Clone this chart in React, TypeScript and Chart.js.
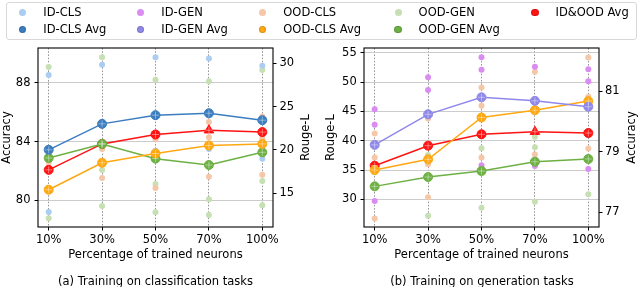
import React, { useEffect, useRef } from 'react';
import { Chart, registerables } from 'chart.js';

Chart.register(...registerables);

const FONT = 'DejaVu Sans';
const FS = 11.5;

const X_LABELS = ['10%', '30%', '50%', '70%', '100%'];

// ---------- (a) Training on classification tasks ----------
const A_ACC_TICKS = [80, 84, 88];
const A_ROUGE_TICKS = [15, 20, 25, 30];
const A_ID_CLS = [[88.52, 79.21], [89.22], [89.72, 83.37], [89.63, 83.5], [89.15, 82.83]];
const A_OOD_CLS = [[82.6], [83.5, 81.52], [84.16, 80.84], [85.32, 84.3, 81.61], [85.7, 84.23, 81.74]];
const A_OOD_GEN = [[29.57, 15.6, 12.12], [30.69, 17.7, 13.54], [28.11, 16.08, 12.81], [27.92, 14.31, 12.5], [29.23, 16.42, 13.62]];
const A_ID_CLS_AVG = [83.44, 85.2, 85.79, 85.92, 85.45];
const A_OOD_CLS_AVG = [80.73, 82.56, 83.19, 83.73, 83.84];
const A_OOD_GEN_AVG = [19.08, 20.69, 19.0, 18.27, 19.73];
const A_ALL_AVG = [82.08, 83.84, 84.48, 84.77, 84.64];

// ---------- (b) Training on generation tasks ----------
const B_ROUGE_TICKS = [30, 35, 40, 45, 50, 55];
const B_ACC_TICKS = [77, 79, 81];
const B_ID_GEN = [[45.36, 42.73, 29.74], [50.81, 48.65], [54.22, 52.1, 35.82], [52.6, 35.7], [52.17, 50.13, 35.18]];
const B_OOD_CLS = [[79.6, 78.81, 76.8], [80.1, 78.59, 77.5], [81.12, 80.52, 78.81], [81.64, 80.63, 78.91], [82.11, 80.81, 79.11]];
const B_OOD_GEN = [[34.6], [37.57, 27.23], [38.71, 28.6], [40.7, 38.89, 29.62], [30.88]];
const B_ID_GEN_AVG = [39.3, 44.5, 47.4, 46.8, 45.8];
const B_OOD_CLS_AVG = [78.4, 78.75, 80.13, 80.37, 80.67];
const B_OOD_GEN_AVG = [32.23, 33.82, 34.85, 36.43, 36.9];
const B_ALL_AVG = [35.75, 39.16, 41.1, 41.54, 41.32];

const C = {
  ID_CLS: '#abcdf2',
  ID_GEN: '#d98df2',
  OOD_CLS: '#f5c7a9',
  OOD_GEN: '#c6e0b4',
  ID_CLS_AVG: '#3b7dbf',
  ID_GEN_AVG: '#8f88ea',
  OOD_CLS_AVG: '#ffa812',
  OOD_GEN_AVG: '#6db043',
  ALL_AVG: '#ff1212',
};

Chart.defaults.font.family = FONT;
Chart.defaults.font.size = FS;
Chart.defaults.color = '#000';

function scatterDs(label: string, groups: number[][], color: string, axis: string) {
  return {
    type: 'scatter',
    label,
    data: groups.flatMap((g, i) => g.map((v) => ({ x: i, y: v }))),
    yAxisID: axis,
    backgroundColor: color,
    borderColor: color,
    borderWidth: 0,
    pointRadius: 3,
    pointHoverRadius: 3,
    order: 10,
  };
}

function avgDs(label: string, values: number[], color: string, axis: string, markMax = false) {
  const maxIdx = markMax ? values.indexOf(Math.max(...values)) : -1;
  const data = values.map((v, i) => ({ x: i, y: v }));
  return [
    {
      type: 'line',
      label,
      data,
      yAxisID: axis,
      borderColor: color,
      backgroundColor: color,
      borderWidth: 1.5,
      tension: 0,
      pointStyle: values.map((_, i) => (i === maxIdx ? 'triangle' : 'circle')),
      pointRadius: values.map((_, i) => (i === maxIdx ? 5.5 : 4.5)),
      pointBackgroundColor: color,
      pointBorderColor: color,
      pointBorderWidth: 1,
      order: 2,
    },
    {
      type: 'scatter',
      label: label + ' mark',
      data,
      yAxisID: axis,
      pointStyle: 'cross',
      pointRadius: 3.5,
      borderColor: 'rgba(255,255,255,0.4)',
      backgroundColor: 'rgba(0,0,0,0)',
      borderWidth: 1,
      order: 1,
    },
  ];
}

const framePlugin = {
  id: 'frame',
  afterDraw(chart: any, _args: any, opts: any) {
    const { ctx, chartArea } = chart;
    ctx.save();
    ctx.strokeStyle = '#000';
    ctx.lineWidth = 1.1;
    ctx.strokeRect(chartArea.left, chartArea.top, chartArea.right - chartArea.left, chartArea.bottom - chartArea.top);
    if (opts && opts.text) {
      ctx.translate(opts.x, (chartArea.top + chartArea.bottom) / 2);
      ctx.rotate(-Math.PI / 2);
      ctx.fillStyle = '#000';
      ctx.font = `${FS}px "${FONT}"`;
      ctx.textAlign = 'center';
      ctx.textBaseline = 'middle';
      ctx.fillText(opts.text, 0, 0);
    }
    ctx.restore();
  },
};

type Spec = {
  leftW: number;
  rightW: number;
  yMin: number;
  yMax: number;
  yTicks: number[];
  y2Min: number;
  y2Max: number;
  y2Ticks: number[];
  leftTitle: string;
  leftTitlePad: number;
  rightTitle: string;
  rightTitleX: number;
  leftTickPad: number;
  rightTickPad: number;
  datasets: any[];
};

function makeConfig(s: Spec): any {
  const tickFont = { family: FONT, size: FS };
  return {
    type: 'scatter',
    data: { datasets: s.datasets },
    options: {
      animation: false,
      responsive: false,
      events: [],
      layout: { padding: { left: 0, right: 0, top: 48, bottom: 20 } },
      plugins: {
        legend: { display: false },
        tooltip: { enabled: false },
        frame: { text: s.rightTitle, x: s.rightTitleX },
      },
      scales: {
        x: {
          type: 'linear',
          min: -0.2,
          max: 4.2,
          afterBuildTicks: (sc: any) => {
            sc.ticks = X_LABELS.map((_, i) => ({ value: i }));
          },
          afterFit: (sc: any) => {
            sc.height = 40;
          },
          ticks: {
            autoSkip: false,
            maxRotation: 0,
            padding: 3,
            font: tickFont,
            color: '#000',
            callback: (v: any) => X_LABELS[Math.round(v)] ?? '',
          },
          grid: {
            color: 'rgba(115,115,115,0.75)',
            lineWidth: 1,
            tickColor: '#000',
            tickLength: 3.5,
            tickWidth: 1,
          },
          border: { display: false, dash: [1.6, 1.6] },
          title: {
            display: true,
            text: 'Percentage of trained neurons',
            font: tickFont,
            color: '#000',
            padding: { top: 0, bottom: 5.4 },
          },
        },
        y: {
          type: 'linear',
          position: 'left',
          min: s.yMin,
          max: s.yMax,
          afterBuildTicks: (sc: any) => {
            sc.ticks = s.yTicks.map((v) => ({ value: v }));
          },
          afterFit: (sc: any) => {
            sc.width = s.leftW;
          },
          ticks: { padding: s.leftTickPad, font: tickFont, color: '#000', callback: (v: any) => String(v) },
          grid: { color: '#cccccc', lineWidth: 1, tickColor: '#000', tickLength: 3.5, tickWidth: 1 },
          border: { display: false },
          title: {
            display: true,
            text: s.leftTitle,
            font: tickFont,
            color: '#000',
            padding: { top: s.leftTitlePad, bottom: 0 },
          },
        },
        y2: {
          type: 'linear',
          position: 'right',
          min: s.y2Min,
          max: s.y2Max,
          afterBuildTicks: (sc: any) => {
            sc.ticks = s.y2Ticks.map((v) => ({ value: v }));
          },
          afterFit: (sc: any) => {
            sc.width = s.rightW;
          },
          ticks: { padding: s.rightTickPad, font: tickFont, color: '#000', callback: (v: any) => String(v) },
          grid: { drawOnChartArea: false, tickColor: '#000', tickLength: 3.5, tickWidth: 1 },
          border: { display: false },
        },
      },
    },
    plugins: [framePlugin],
  };
}

const SPEC_A: Spec = {
  leftW: 38,
  rightW: 47,
  yMin: 78.2,
  yMax: 90.35,
  yTicks: A_ACC_TICKS,
  y2Min: 11.11,
  y2Max: 31.77,
  y2Ticks: A_ROUGE_TICKS,
  leftTitle: 'Accuracy',
  leftTitlePad: 0,
  rightTitle: 'Rouge-L',
  rightTitleX: 306,
  leftTickPad: 4,
  rightTickPad: 3,
  datasets: [
    scatterDs('ID-CLS', A_ID_CLS, C.ID_CLS, 'y'),
    scatterDs('OOD-CLS', A_OOD_CLS, C.OOD_CLS, 'y'),
    scatterDs('OOD-GEN', A_OOD_GEN, C.OOD_GEN, 'y2'),
    ...avgDs('ID-CLS Avg', A_ID_CLS_AVG, C.ID_CLS_AVG, 'y'),
    ...avgDs('OOD-CLS Avg', A_OOD_CLS_AVG, C.OOD_CLS_AVG, 'y'),
    ...avgDs('OOD-GEN Avg', A_OOD_GEN_AVG, C.OOD_GEN_AVG, 'y2'),
    ...avgDs('ID&OOD Avg', A_ALL_AVG, C.ALL_AVG, 'y', true),
  ],
};

const SPEC_B: Spec = {
  leftW: 44,
  rightW: 41,
  yMin: 25.31,
  yMax: 55.8,
  yTicks: B_ROUGE_TICKS,
  y2Min: 76.52,
  y2Max: 82.42,
  y2Ticks: B_ACC_TICKS,
  leftTitle: 'Rouge-L',
  leftTitlePad: 4,
  rightTitle: 'Accuracy',
  rightTitleX: 311.7,
  leftTickPad: 3.8,
  rightTickPad: 2.5,
  datasets: [
    scatterDs('ID-GEN', B_ID_GEN, C.ID_GEN, 'y'),
    scatterDs('OOD-CLS', B_OOD_CLS, C.OOD_CLS, 'y2'),
    scatterDs('OOD-GEN', B_OOD_GEN, C.OOD_GEN, 'y'),
    ...avgDs('ID-GEN Avg', B_ID_GEN_AVG, C.ID_GEN_AVG, 'y'),
    ...avgDs('OOD-CLS Avg', B_OOD_CLS_AVG, C.OOD_CLS_AVG, 'y2'),
    ...avgDs('OOD-GEN Avg', B_OOD_GEN_AVG, C.OOD_GEN_AVG, 'y'),
    ...avgDs('ID&OOD Avg', B_ALL_AVG, C.ALL_AVG, 'y', true),
  ],
};

const LEGEND_ITEMS = [
  { label: 'ID-CLS', color: C.ID_CLS, avg: false, col: 0, row: 0 },
  { label: 'ID-CLS Avg', color: C.ID_CLS_AVG, avg: true, col: 0, row: 1 },
  { label: 'ID-GEN', color: C.ID_GEN, avg: false, col: 1, row: 0 },
  { label: 'ID-GEN Avg', color: C.ID_GEN_AVG, avg: true, col: 1, row: 1 },
  { label: 'OOD-CLS', color: C.OOD_CLS, avg: false, col: 2, row: 0 },
  { label: 'OOD-CLS Avg', color: C.OOD_CLS_AVG, avg: true, col: 2, row: 1 },
  { label: 'OOD-GEN', color: C.OOD_GEN, avg: false, col: 3, row: 0 },
  { label: 'OOD-GEN Avg', color: C.OOD_GEN_AVG, avg: true, col: 3, row: 1 },
  { label: 'ID&OOD Avg', color: C.ALL_AVG, avg: true, col: 4, row: 0 },
];
const LEGEND_COL_X = [22.7, 140.7, 262.7, 398, 535];
const LEGEND_ROW_Y = [12.3, 29.3];

function ChartCanvas({ spec, left }: { spec: Spec; left: number }) {
  const ref = useRef<HTMLCanvasElement>(null);
  useEffect(() => {
    if (!ref.current) return;
    const chart = new Chart(ref.current, makeConfig(spec));
    return () => chart.destroy();
  }, [spec]);
  return (
    <canvas
      ref={ref}
      width={320}
      height={287}
      style={{ position: 'absolute', left, top: 0, width: 320, height: 287 }}
    />
  );
}

export default function App() {
  const textStyle: React.CSSProperties = {
    position: 'absolute',
    fontFamily: `"${FONT}"`,
    fontSize: FS,
    lineHeight: '13px',
    color: '#000',
    whiteSpace: 'nowrap',
  };
  return (
    <div
      style={{
        position: 'fixed',
        left: 0,
        top: 0,
        width: 640,
        height: 287,
        background: '#fff',
        overflow: 'hidden',
      }}
    >
      <ChartCanvas spec={SPEC_A} left={0} />
      <ChartCanvas spec={SPEC_B} left={320} />
      <div
        style={{
          position: 'absolute',
          left: 6,
          top: 2,
          width: 629,
          height: 36,
          border: '1px solid #d8d8d8',
          borderRadius: 3,
          background: 'rgba(255,255,255,0.8)',
        }}
      />
      {LEGEND_ITEMS.map((it) => {
        const cx = LEGEND_COL_X[it.col];
        const cy = LEGEND_ROW_Y[it.row];
        const d = it.avg ? 7.5 : 7;
        return (
          <React.Fragment key={it.label}>
            <div
              style={{
                position: 'absolute',
                left: cx - d / 2,
                top: cy - d / 2,
                width: d,
                height: d,
                borderRadius: '50%',
                background: it.color,
                boxSizing: 'border-box',
                border: it.avg ? '1px solid rgba(0,0,0,0.15)' : 'none',
              }}
            />
            <div style={{ ...textStyle, left: cx + 20.6, top: cy - 6.8 }}>{it.label}</div>
          </React.Fragment>
        );
      })}
      <div style={{ ...textStyle, left: 155.5, top: 275, transform: 'translateX(-50%)' }}>
        (a) Training on classification tasks
      </div>
      <div style={{ ...textStyle, left: 482, top: 275, transform: 'translateX(-50%)' }}>
        (b) Training on generation tasks
      </div>
    </div>
  );
}
